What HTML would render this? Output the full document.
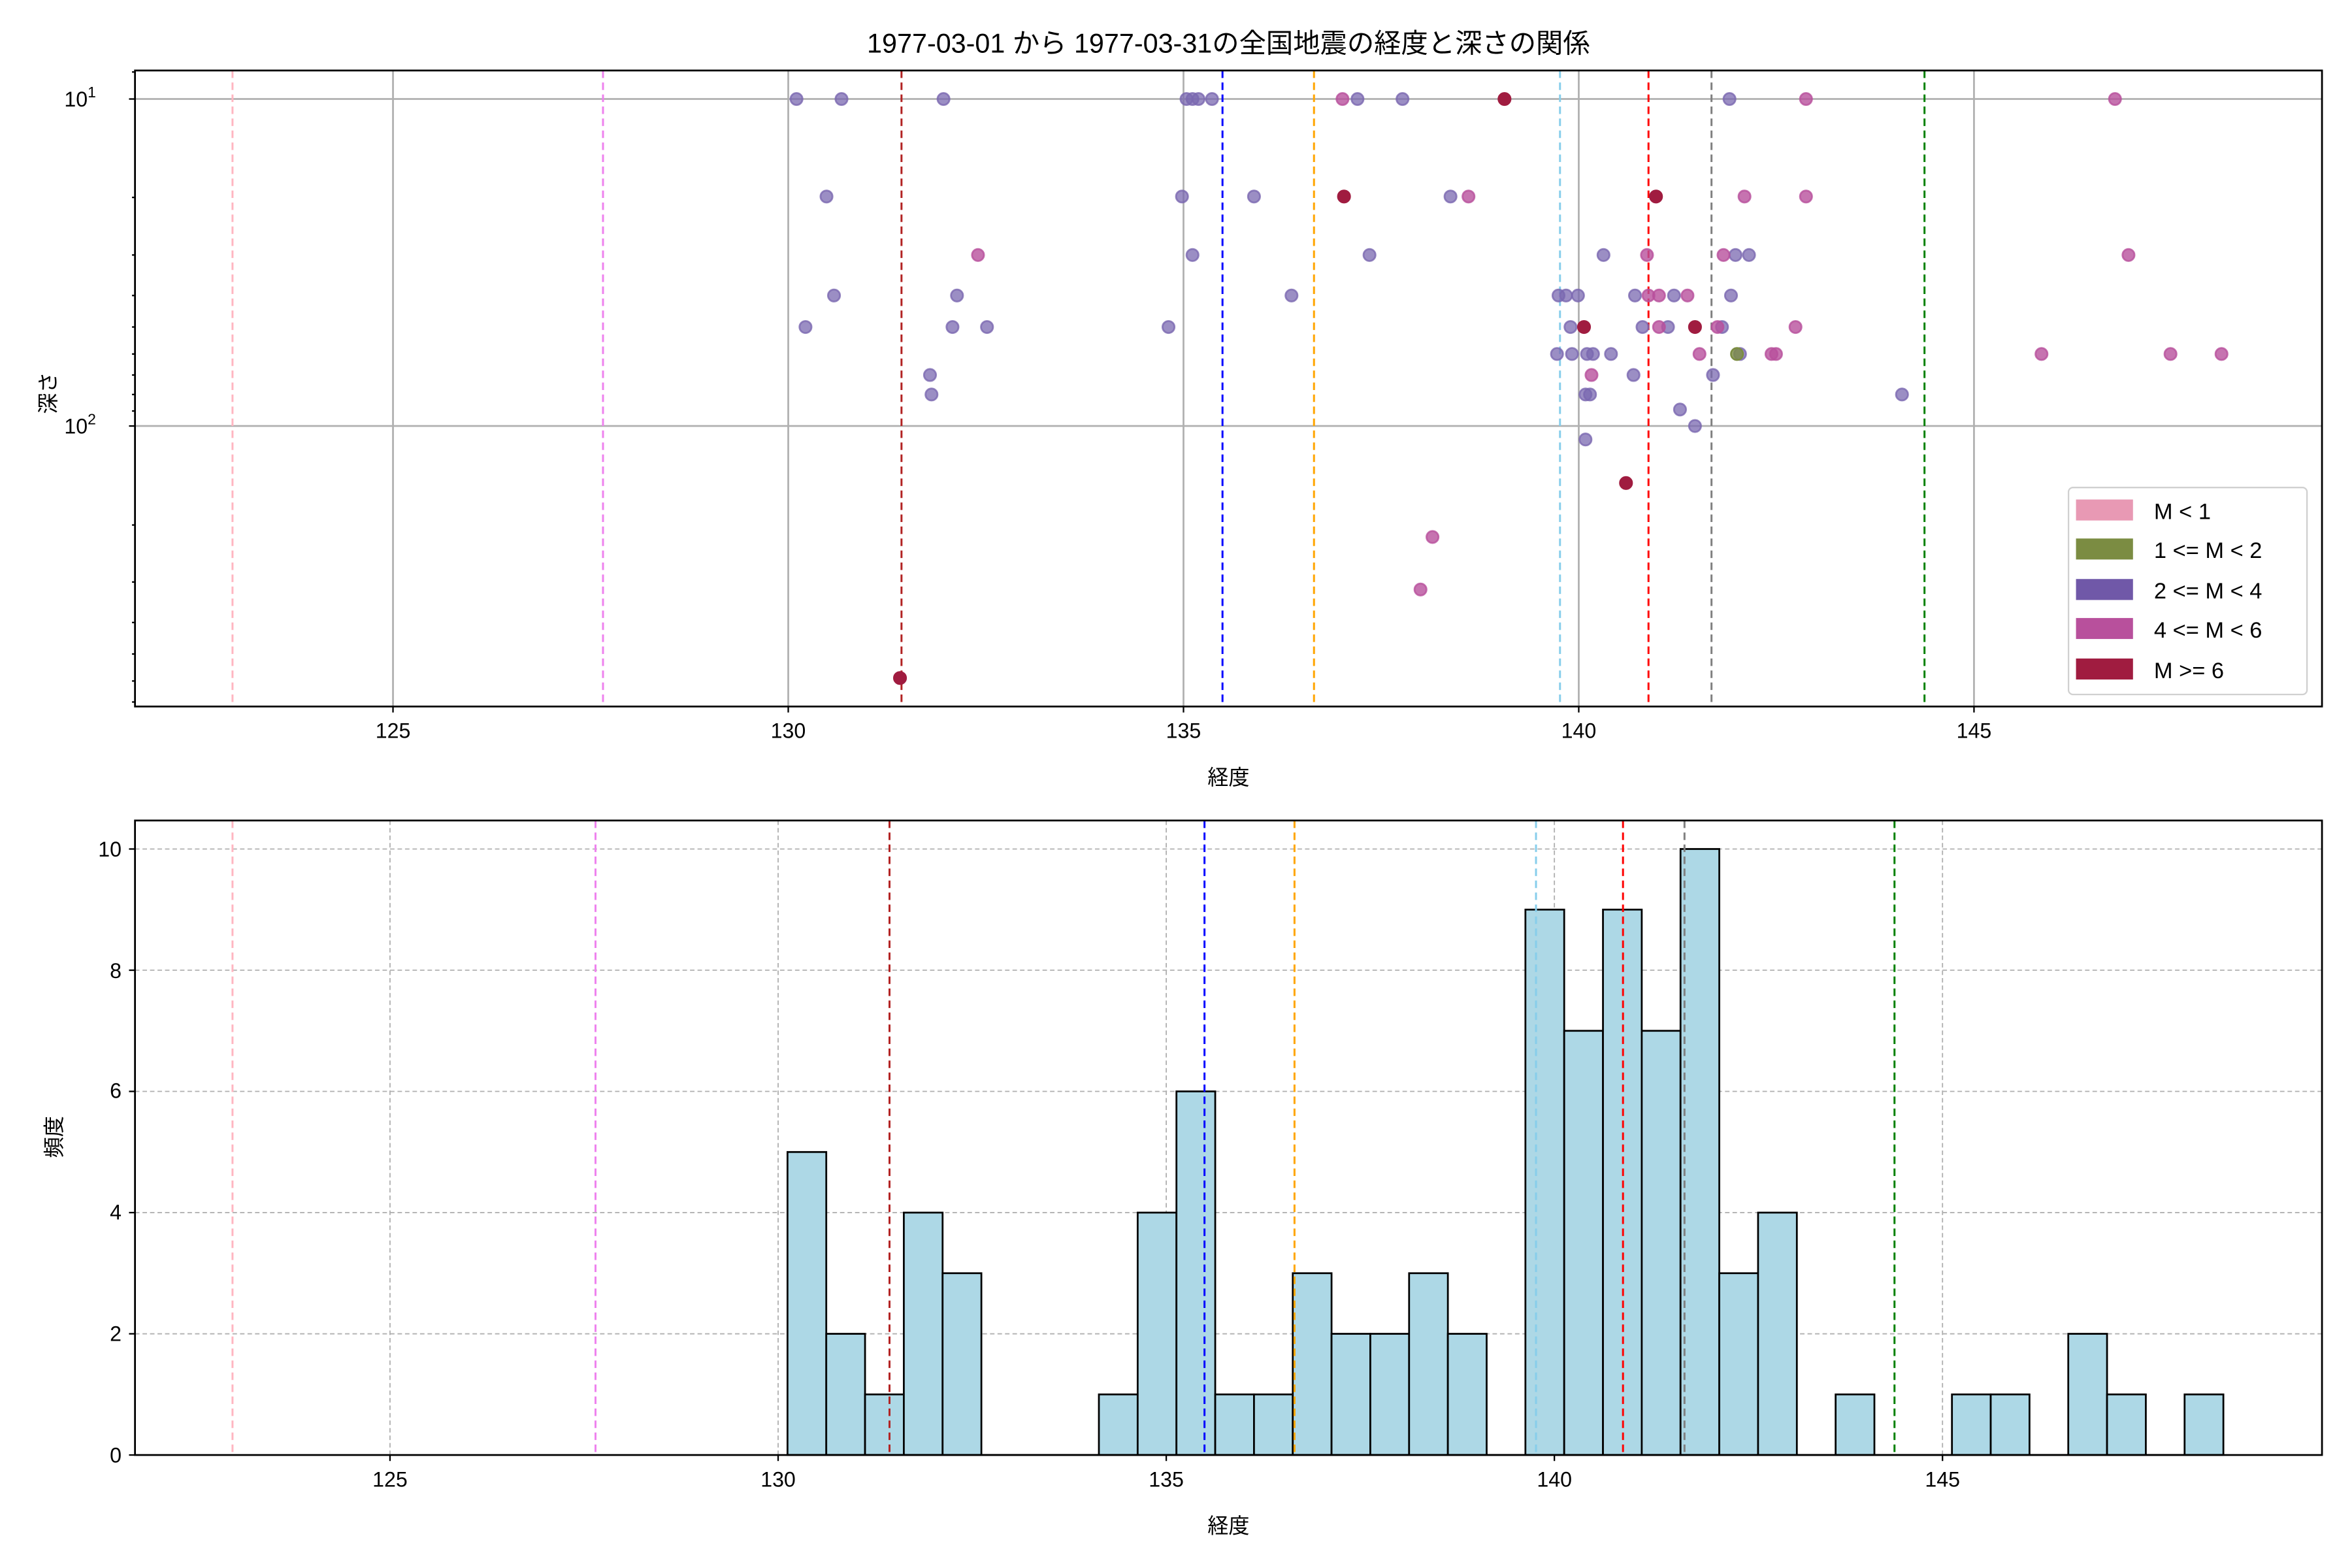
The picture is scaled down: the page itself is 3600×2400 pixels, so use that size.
<!DOCTYPE html>
<html><head><meta charset="utf-8"><style>html,body{margin:0;padding:0;background:#fff}svg{display:block}</style></head>
<body>
<svg width="3600" height="2400" viewBox="0 0 1568 1045.33" preserveAspectRatio="none" xmlns="http://www.w3.org/2000/svg" font-family="Liberation Sans, Noto Sans CJK JP, sans-serif">
<rect width="1568" height="1046" fill="#fff"/>
<text x="819" y="35" font-size="18" text-anchor="middle">1977-03-01 から 1977-03-31の全国地震の経度と深さの関係</text>
<g id="top">
<!-- grid -->
<g stroke="#b0b0b0" stroke-width="1.2">
<line x1="262" y1="47" x2="262" y2="471"/><line x1="525.5" y1="47" x2="525.5" y2="471"/><line x1="789" y1="47" x2="789" y2="471"/><line x1="1052.5" y1="47" x2="1052.5" y2="471"/><line x1="1316" y1="47" x2="1316" y2="471"/>
<line x1="90" y1="66" x2="1548" y2="66"/><line x1="90" y1="284" x2="1548" y2="284"/>
</g>
<g stroke-width="1.3" stroke-dasharray="5,3" fill="none">
<line x1="155" y1="47" x2="155" y2="471" stroke="#ffb6c1"/>
<line x1="402" y1="47" x2="402" y2="471" stroke="#ee82ee"/>
<line x1="601" y1="47" x2="601" y2="471" stroke="#b22222"/>
<line x1="815" y1="47" x2="815" y2="471" stroke="#0000ff"/>
<line x1="876" y1="47" x2="876" y2="471" stroke="#ffa500"/>
<line x1="1040" y1="47" x2="1040" y2="471" stroke="#87ceeb"/>
<line x1="1099" y1="47" x2="1099" y2="471" stroke="#ff0000"/>
<line x1="1141" y1="47" x2="1141" y2="471" stroke="#808080"/>
<line x1="1283" y1="47" x2="1283" y2="471" stroke="#008000"/>
</g>
<g stroke-width="1.2">
<g fill="#7a68b0" fill-opacity="0.75" stroke="#7a68b0" stroke-opacity="0.8">
<circle cx="531" cy="66" r="4"/><circle cx="561" cy="66" r="4"/><circle cx="629" cy="66" r="4"/><circle cx="791" cy="66" r="4"/><circle cx="795" cy="66" r="4"/><circle cx="799" cy="66" r="4"/><circle cx="808" cy="66" r="4"/><circle cx="905" cy="66" r="4"/><circle cx="935" cy="66" r="4"/><circle cx="1153" cy="66" r="4"/>
<circle cx="551" cy="131" r="4"/><circle cx="788" cy="131" r="4"/><circle cx="836" cy="131" r="4"/><circle cx="967" cy="131" r="4"/>
<circle cx="795" cy="170" r="4"/><circle cx="913" cy="170" r="4"/><circle cx="1069" cy="170" r="4"/><circle cx="1157" cy="170" r="4"/><circle cx="1166" cy="170" r="4"/>
<circle cx="556" cy="197" r="4"/><circle cx="638" cy="197" r="4"/><circle cx="861" cy="197" r="4"/><circle cx="1039" cy="197" r="4"/><circle cx="1044" cy="197" r="4"/><circle cx="1052" cy="197" r="4"/><circle cx="1090" cy="197" r="4"/><circle cx="1116" cy="197" r="4"/><circle cx="1154" cy="197" r="4"/>
<circle cx="537" cy="218" r="4"/><circle cx="635" cy="218" r="4"/><circle cx="658" cy="218" r="4"/><circle cx="779" cy="218" r="4"/><circle cx="1047" cy="218" r="4"/><circle cx="1095" cy="218" r="4"/><circle cx="1112" cy="218" r="4"/><circle cx="1148" cy="218" r="4"/>
<circle cx="1038" cy="236" r="4"/><circle cx="1048" cy="236" r="4"/><circle cx="1058" cy="236" r="4"/><circle cx="1062" cy="236" r="4"/><circle cx="1074" cy="236" r="4"/><circle cx="1160" cy="236" r="4"/>
<circle cx="620" cy="250" r="4"/><circle cx="1089" cy="250" r="4"/><circle cx="1142" cy="250" r="4"/>
<circle cx="621" cy="263" r="4"/><circle cx="1057" cy="263" r="4"/><circle cx="1060" cy="263" r="4"/><circle cx="1268" cy="263" r="4"/>
<circle cx="1120" cy="273" r="4"/><circle cx="1130" cy="284" r="4"/><circle cx="1057" cy="293" r="4"/>
</g>
<g fill="#b8509c" fill-opacity="0.8" stroke="#b8509c" stroke-opacity="0.8">
<circle cx="895" cy="66" r="4"/><circle cx="1204" cy="66" r="4"/><circle cx="1410" cy="66" r="4"/>
<circle cx="979" cy="131" r="4"/><circle cx="1163" cy="131" r="4"/><circle cx="1204" cy="131" r="4"/>
<circle cx="652" cy="170" r="4"/><circle cx="1098" cy="170" r="4"/><circle cx="1149" cy="170" r="4"/><circle cx="1419" cy="170" r="4"/>
<circle cx="1099" cy="197" r="4"/><circle cx="1106" cy="197" r="4"/><circle cx="1125" cy="197" r="4"/>
<circle cx="1106" cy="218" r="4"/><circle cx="1145" cy="218" r="4"/><circle cx="1197" cy="218" r="4"/>
<circle cx="1133" cy="236" r="4"/><circle cx="1181" cy="236" r="4"/><circle cx="1184" cy="236" r="4"/><circle cx="1361" cy="236" r="4"/><circle cx="1447" cy="236" r="4"/><circle cx="1481" cy="236" r="4"/>
<circle cx="1061" cy="250" r="4"/><circle cx="955" cy="358" r="4"/><circle cx="947" cy="393" r="4"/>
</g>
<circle cx="1158" cy="236" r="4" fill="#7b8c42" fill-opacity="0.8" stroke="#7b8c42"/>
<g fill="#a01c40" stroke="#a01c40">
<circle cx="1003" cy="66" r="4"/><circle cx="896" cy="131" r="4"/><circle cx="1104" cy="131" r="4"/><circle cx="1056" cy="218" r="4"/><circle cx="1130" cy="218" r="4"/><circle cx="1084" cy="322" r="4"/><circle cx="600" cy="452" r="4"/>
</g>
</g>
<rect x="90" y="47" width="1458" height="424" fill="none" stroke="#000" stroke-width="1.2"/>
<g stroke="#000" stroke-width="1">
<line x1="262" y1="471" x2="262" y2="475"/><line x1="525.5" y1="471" x2="525.5" y2="475"/><line x1="789" y1="471" x2="789" y2="475"/><line x1="1052.5" y1="471" x2="1052.5" y2="475"/><line x1="1316" y1="471" x2="1316" y2="475"/>
<line x1="86" y1="66" x2="90" y2="66"/><line x1="86" y1="284" x2="90" y2="284"/>
<line x1="88" y1="48" x2="90" y2="48"/><line x1="88" y1="131.6" x2="90" y2="131.6"/><line x1="88" y1="170" x2="90" y2="170"/><line x1="88" y1="197" x2="90" y2="197"/><line x1="88" y1="218" x2="90" y2="218"/><line x1="88" y1="236" x2="90" y2="236"/><line x1="88" y1="250" x2="90" y2="250"/><line x1="88" y1="263" x2="90" y2="263"/><line x1="88" y1="274" x2="90" y2="274"/>
<line x1="88" y1="350" x2="90" y2="350"/><line x1="88" y1="388" x2="90" y2="388"/><line x1="88" y1="415" x2="90" y2="415"/><line x1="88" y1="436" x2="90" y2="436"/><line x1="88" y1="454" x2="90" y2="454"/><line x1="88" y1="468" x2="90" y2="468"/>
</g>
<g font-size="14" text-anchor="middle">
<text x="262" y="492">125</text><text x="525.5" y="492">130</text><text x="789" y="492">135</text><text x="1052.5" y="492">140</text><text x="1316" y="492">145</text>
</g>
<text x="64" y="71" font-size="14" text-anchor="end">10<tspan font-size="10" dy="-6">1</tspan></text>
<text x="64" y="289" font-size="14" text-anchor="end">10<tspan font-size="10" dy="-6">2</tspan></text>
<text x="819" y="523" font-size="14" text-anchor="middle">経度</text>
<text transform="translate(37,262) rotate(-90)" font-size="14" text-anchor="middle">深さ</text>
<rect x="1379" y="325" width="159" height="138" rx="3" fill="#fff" fill-opacity="0.85" stroke="#d0d0d0"/>
<rect x="1384" y="333" width="38" height="14" fill="#e899b4"/>
<rect x="1384" y="359" width="38" height="14" fill="#7b8c42"/>
<rect x="1384" y="386" width="38" height="14" fill="#7058a8"/>
<rect x="1384" y="412" width="38" height="14" fill="#b8509c"/>
<rect x="1384" y="439" width="38" height="14" fill="#a01c40"/>
<g font-size="15">
<text x="1436" y="346">M &lt; 1</text><text x="1436" y="372">1 &lt;= M &lt; 2</text><text x="1436" y="399">2 &lt;= M &lt; 4</text><text x="1436" y="425">4 &lt;= M &lt; 6</text><text x="1436" y="452">M &gt;= 6</text>
</g>
</g>
<g id="bottom">
<g stroke="#b0b0b0" stroke-width="0.8" stroke-dasharray="3,2">
<line x1="260" y1="547" x2="260" y2="970"/><line x1="518.75" y1="547" x2="518.75" y2="970"/><line x1="777.5" y1="547" x2="777.5" y2="970"/><line x1="1036.25" y1="547" x2="1036.25" y2="970"/><line x1="1295" y1="547" x2="1295" y2="970"/>
<line x1="90" y1="889.2" x2="1548" y2="889.2"/><line x1="90" y1="808.4" x2="1548" y2="808.4"/><line x1="90" y1="727.6" x2="1548" y2="727.6"/><line x1="90" y1="646.8" x2="1548" y2="646.8"/><line x1="90" y1="566" x2="1548" y2="566"/>
</g>
<g fill="#add8e6" stroke="#000" stroke-width="1.2">
<rect x="525" y="768" width="25.85" height="202"/>
<rect x="550.85" y="889.2" width="25.85" height="80.8"/>
<rect x="576.7" y="929.6" width="25.85" height="40.4"/>
<rect x="602.55" y="808.4" width="25.85" height="161.6"/>
<rect x="628.4" y="848.8" width="25.85" height="121.2"/>
<rect x="732.6" y="929.6" width="25.85" height="40.4"/>
<rect x="758.45" y="808.4" width="25.85" height="161.6"/>
<rect x="784.3" y="727.6" width="25.85" height="242.4"/>
<rect x="810.15" y="929.6" width="25.85" height="40.4"/>
<rect x="836" y="929.6" width="25.85" height="40.4"/>
<rect x="861.85" y="848.8" width="25.85" height="121.2"/>
<rect x="887.7" y="889.2" width="25.85" height="80.8"/>
<rect x="913.55" y="889.2" width="25.85" height="80.8"/>
<rect x="939.4" y="848.8" width="25.85" height="121.2"/>
<rect x="965.25" y="889.2" width="25.85" height="80.8"/>
<rect x="1016.95" y="606.4" width="25.85" height="363.6"/>
<rect x="1042.8" y="687.2" width="25.85" height="282.8"/>
<rect x="1068.65" y="606.4" width="25.85" height="363.6"/>
<rect x="1094.5" y="687.2" width="25.85" height="282.8"/>
<rect x="1120.35" y="566" width="25.85" height="404"/>
<rect x="1146.2" y="848.8" width="25.85" height="121.2"/>
<rect x="1172.05" y="808.4" width="25.85" height="161.6"/>
<rect x="1223.75" y="929.6" width="25.85" height="40.4"/>
<rect x="1301.3" y="929.6" width="25.85" height="40.4"/>
<rect x="1327.15" y="929.6" width="25.85" height="40.4"/>
<rect x="1378.85" y="889.2" width="25.85" height="80.8"/>
<rect x="1404.7" y="929.6" width="25.85" height="40.4"/>
<rect x="1456.4" y="929.6" width="25.85" height="40.4"/>
</g>
<line x1="525" y1="970" x2="1482" y2="970" stroke="#000" stroke-width="1.2"/>
<g stroke-width="1.3" stroke-dasharray="5,3" fill="none">
<line x1="155" y1="547" x2="155" y2="970" stroke="#ffb6c1"/>
<line x1="397" y1="547" x2="397" y2="970" stroke="#ee82ee"/>
<line x1="593" y1="547" x2="593" y2="970" stroke="#b22222"/>
<line x1="803" y1="547" x2="803" y2="970" stroke="#0000ff"/>
<line x1="863" y1="547" x2="863" y2="970" stroke="#ffa500"/>
<line x1="1024" y1="547" x2="1024" y2="970" stroke="#87ceeb"/>
<line x1="1082" y1="547" x2="1082" y2="970" stroke="#ff0000"/>
<line x1="1123" y1="547" x2="1123" y2="970" stroke="#808080"/>
<line x1="1263" y1="547" x2="1263" y2="970" stroke="#008000"/>
</g>
<rect x="90" y="547" width="1458" height="423" fill="none" stroke="#000" stroke-width="1.2"/>
<g stroke="#000" stroke-width="1">
<line x1="260" y1="970" x2="260" y2="974"/><line x1="518.75" y1="970" x2="518.75" y2="974"/><line x1="777.5" y1="970" x2="777.5" y2="974"/><line x1="1036.25" y1="970" x2="1036.25" y2="974"/><line x1="1295" y1="970" x2="1295" y2="974"/>
<line x1="86" y1="970" x2="90" y2="970"/><line x1="86" y1="889.2" x2="90" y2="889.2"/><line x1="86" y1="808.4" x2="90" y2="808.4"/><line x1="86" y1="727.6" x2="90" y2="727.6"/><line x1="86" y1="646.8" x2="90" y2="646.8"/><line x1="86" y1="566" x2="90" y2="566"/>
</g>
<g font-size="14" text-anchor="middle">
<text x="260" y="991">125</text><text x="518.75" y="991">130</text><text x="777.5" y="991">135</text><text x="1036.25" y="991">140</text><text x="1295" y="991">145</text>
</g>
<g font-size="14" text-anchor="end">
<text x="81" y="975">0</text><text x="81" y="894">2</text><text x="81" y="813">4</text><text x="81" y="732">6</text><text x="81" y="652">8</text><text x="81" y="571">10</text>
</g>
<text x="819" y="1022" font-size="14" text-anchor="middle">経度</text>
<text transform="translate(41,758) rotate(-90)" font-size="14" text-anchor="middle">頻度</text>
</g>
</svg>
</body></html>
